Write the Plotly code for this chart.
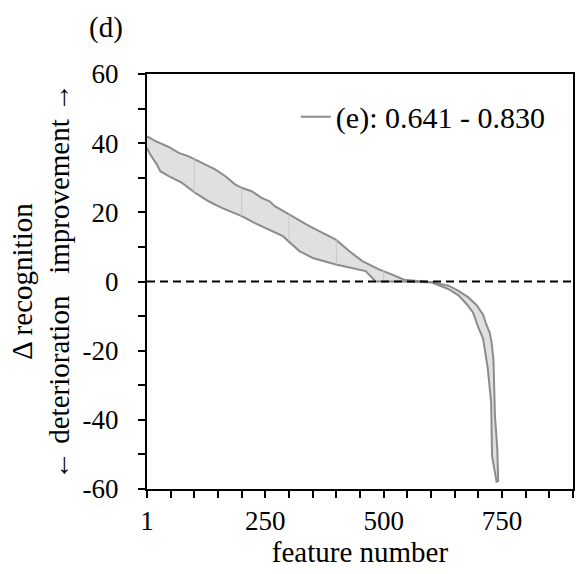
import plotly.graph_objects as go

# upper bound curve (feature number, delta recognition)
upper_x = [1, 19, 47, 68, 89, 103, 124, 145, 166, 187, 201, 222, 243, 260, 271, 302, 344, 400, 428, 456,
           491, 519, 544, 603, 638, 659, 680, 697, 711, 718, 725, 729, 733, 736, 741, 743]
upper_y = [42.0, 40.6, 38.9, 37.2, 36.2, 35.3, 33.8, 32.4, 30.5, 28.1, 27.1, 26.1, 24.2, 23.2, 21.8, 19.4,
           16.0, 12.1, 8.8, 5.9, 3.5, 2.0, 0.5, -0.2, -1.2, -2.7, -4.6, -6.8, -9.6, -12.5, -14.8, -17.6,
           -22.7, -38.6, -48.2, -58.0]

# lower bound curve
lower_x = [1, 8, 22, 29, 47, 75, 103, 131, 159, 187, 201, 229, 257, 288, 323, 351, 400, 435, 463, 477,
           484, 540, 603, 638, 659, 676, 690, 701, 711, 721, 728, 730, 737, 740]
lower_y = [38.6, 36.7, 33.8, 31.9, 30.5, 28.5, 25.6, 23.2, 21.3, 19.7, 18.9, 16.9, 15.0, 13.1, 8.8, 6.8,
           4.9, 3.9, 3.0, 1.0, 0.0, 0.0, -0.3, -2.2, -4.0, -6.5, -9.0, -13.3, -16.5, -25.2, -34.9, -50.5,
           -56.3, -58.2]

# faint seams visible inside the shaded band
seam_x = [101, 201, 301, 401, 501]
seam_low = [25.7, 18.9, 11.8, 4.9, 0.0]
seam_high = [35.4, 27.1, 19.4, 12.1, 3.2]

series_name = "(e): 0.641 - 0.830"

x_tick_vals = list(range(1, 902, 50))
x_label_map = {1: "1", 251: "250", 501: "500", 751: "750"}
x_tick_text = [x_label_map.get(v, "") for v in x_tick_vals]
y_tick_vals = list(range(-60, 61, 10))
y_tick_text = [str(v) if v % 20 == 0 else "" for v in y_tick_vals]

line_col = "#8c8c8c"
fill_col = "#e0e0e0"
seam_col = "#c9c9c9"
font = "Liberation Serif"

fig = go.Figure()
fig.add_trace(go.Scatter(x=lower_x, y=lower_y, mode="lines",
                         line=dict(color=line_col, width=2), showlegend=False))
fig.add_trace(go.Scatter(x=upper_x, y=upper_y, mode="lines", fill="tonexty",
                         fillcolor=fill_col, line=dict(color=line_col, width=2),
                         showlegend=False))
for sx, lo, hi in zip(seam_x, seam_low, seam_high):
    fig.add_trace(go.Scatter(x=[sx, sx], y=[lo, hi], mode="lines",
                             line=dict(color=seam_col, width=1), showlegend=False,
                             hoverinfo="skip"))
# legend entry (line only)
fig.add_trace(go.Scatter(x=[None], y=[None], mode="lines",
                         line=dict(color=line_col, width=2), name=series_name))

fig.add_hline(y=0, line=dict(color="black", width=2, dash="8px,5px"))

fig.update_layout(
    width=578, height=574,
    margin=dict(l=147, r=3, t=74, b=85),
    plot_bgcolor="white", paper_bgcolor="white",
    font=dict(family=font, size=27, color="black"),
    showlegend=True,
    legend=dict(x=0.948, y=0.897, xanchor="right", yanchor="middle",
                bgcolor="rgba(0,0,0,0)", font=dict(size=30, family=font),
                itemwidth=30, tracegroupgap=0),
    xaxis=dict(range=[1, 901], tickvals=x_tick_vals, ticktext=x_tick_text,
               ticks="outside", ticklen=7, tickwidth=1.5, tickcolor="black",
               showline=True, linecolor="black", linewidth=2, mirror=True,
               showgrid=False, zeroline=False,
               title=dict(text="feature number", font=dict(size=29), standoff=6),
               tickfont=dict(size=27)),
    yaxis=dict(range=[-60, 60], tickvals=y_tick_vals, ticktext=y_tick_text,
               ticks="outside", ticklen=7, tickwidth=1.5, tickcolor="black",
               ticklabelstandoff=14,
               showline=True, linecolor="black", linewidth=2, mirror=True,
               showgrid=False, zeroline=False,
               title=dict(text="Δ recognition<br>← deterioration   improvement →",
                          font=dict(size=29), standoff=4),
               tickfont=dict(size=27)),
)

fig.add_annotation(text="(d)", xref="paper", yref="paper", x=-0.097, y=1.113,
                   xanchor="center", yanchor="middle", showarrow=False,
                   font=dict(size=29, family=font))

fig.write_html("out.html")
